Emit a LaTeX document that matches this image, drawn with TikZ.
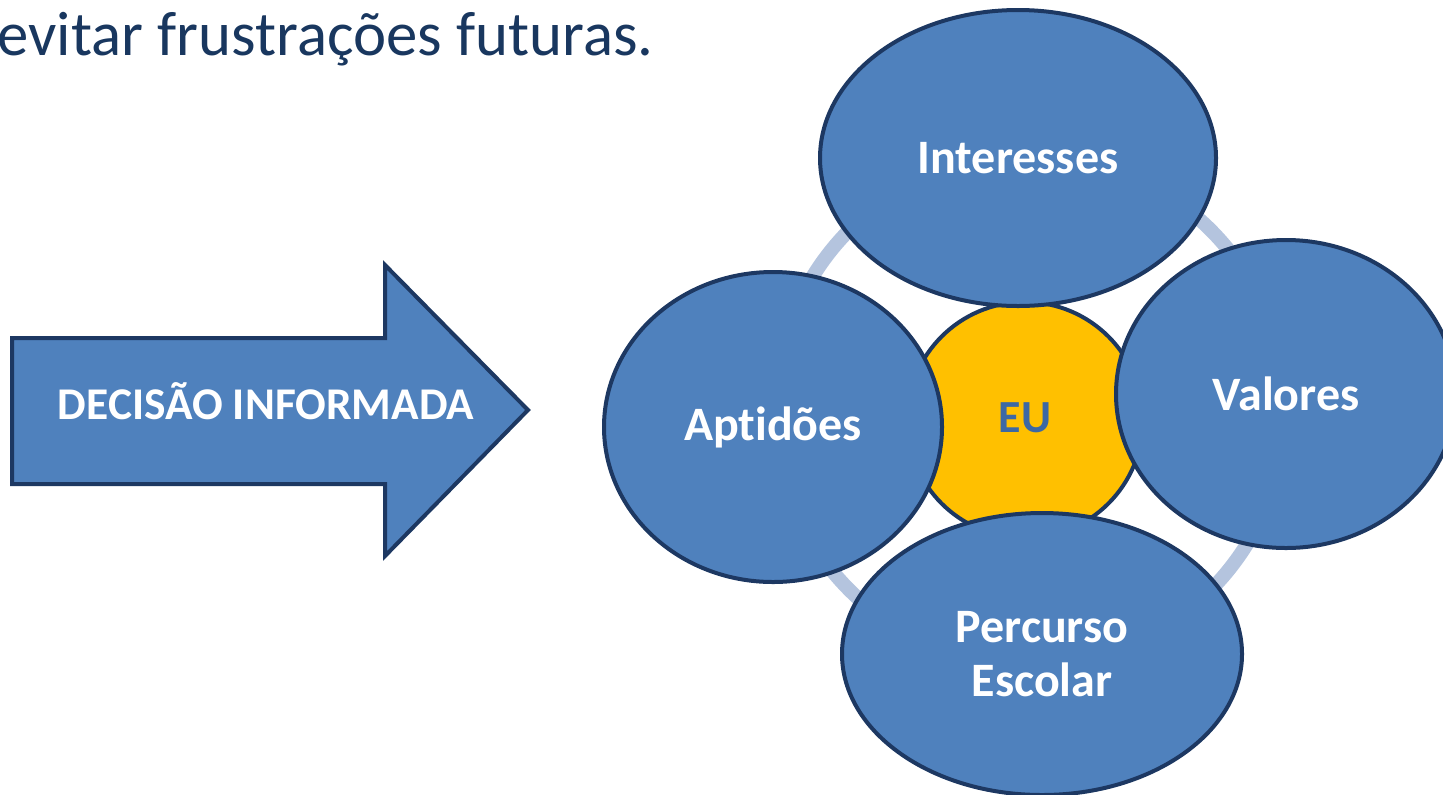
\documentclass[tikz,border=0pt]{standalone}
\usepackage{fontspec}
\setmainfont{Carlito}[Ligatures=NoCommon]
\usetikzlibrary{shapes.geometric, positioning}
\definecolor{bubblecolor}{RGB}{79,129,189}
\definecolor{edgecolor}{RGB}{29,56,98}
\definecolor{selfcolor}{RGB}{255,192,0}
\definecolor{ringcolor}{RGB}{180,196,222}
\definecolor{eucolor}{RGB}{60,104,164}
\definecolor{titlecolor}{RGB}{25,55,95}

\begin{document}
\begin{tikzpicture}[
    x=0.5pt, y=-0.5pt,
    bubble/.style={ellipse, draw=edgecolor, line width=2pt, fill=bubblecolor, text=white, font=\fontsize{24}{27}\selectfont\bfseries, align=center, inner sep=0pt},
    ringline/.style={circle, draw=ringcolor, line width=7pt, inner sep=0pt, minimum size=255pt},
    arrowshape/.style={draw=edgecolor, line width=2pt, fill=bubblecolor, line join=miter}
]
    \useasboundingbox (0,0) rectangle (1443,794);

    % Heading fragment
    \node[anchor=base west, inner sep=0pt, text=titlecolor, font=\fontsize{31.4}{38}\selectfont] (title) at (-3,55) {evitar frustrações futuras.};

    % Arrow
    \coordinate (tip) at (528,410);
    \draw[arrowshape] (12,338) -- (385,338) -- (385,265) -- (tip) -- (385,556) -- (385,484) -- (12,484) -- cycle;
    \node[text=white, font=\fontsize{22.7}{26}\selectfont\bfseries] (decisao) at (266,401) {DECISÃO INFORMADA};

    % Ring behind the bubbles
    \node[ringline] (ring) at (1030,410) {};

    % Centre
    \node[circle, draw=edgecolor, line width=2pt, fill=selfcolor, minimum size=118pt, inner sep=0pt] (eu) at (1025,420) {};
    \node[text=eucolor, font=\fontsize{23}{26}\selectfont\bfseries] (eutext) at (1025,418) {EU};

    % Four bubbles
    \node[bubble, minimum width=198pt, minimum height=148pt] (interesses) at (1018,158) {Interesses};
    \node[bubble, minimum width=169pt, minimum height=155pt] (aptidoes) at (773,427) {Aptidões};
    \node[bubble, minimum width=170pt, minimum height=154pt] (valores) at (1286,394) {Valores};
    \node[bubble, minimum width=200pt, minimum height=141pt] (percurso) at (1042,654) {Percurso\\Escolar};
\end{tikzpicture}
\end{document}
